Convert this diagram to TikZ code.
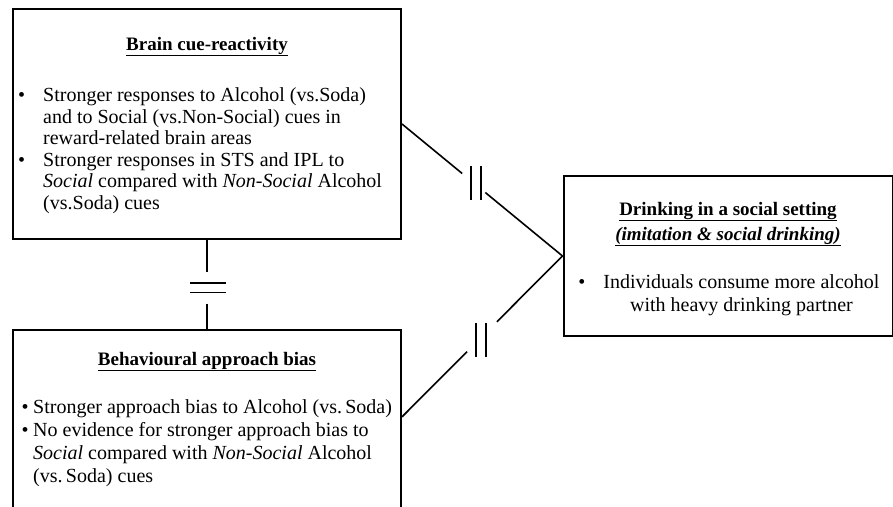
\documentclass[tikz,border=0pt]{standalone}
\usepackage{fontspec}
\setmainfont{Liberation Serif}
\usetikzlibrary{positioning,calc}
\tikzset{
  box/.style = {rectangle, draw=black, line width=2pt, inner sep=0pt},
  title/.style = {font=\fontsize{19}{21.5}\selectfont\bfseries, align=center, inner sep=0pt},
  bullets/.style = {align=left, inner sep=0pt},
  link/.style = {draw=black, line width=1.6pt}
}

\begin{document}
\begin{tikzpicture}[x=1pt,y=-1pt,font=\fontsize{20}{21.5}\selectfont]
\useasboundingbox (0,0) rectangle (893,506);
% the three boxes
\node [box, minimum width=388pt, minimum height=230pt] (brain) at (207,124) {};
\node [box, minimum width=388pt, minimum height=200pt] (bias) at (207,430) {};
\node [box, minimum width=329pt, minimum height=160pt] (drink) at (728,256) {};
% titles
\node [title, anchor=base] (brainT) at (207,50) {\underline{Brain cue-reactivity}};
\node [title, anchor=base] (biasT) at (207,365) {\underline{Behavioural approach bias}};
\node [title, anchor=base] (drinkT) at (728,215) {\underline{Drinking in a social setting}};
\node [title, anchor=base] (drinkS) at (728,240) {\underline{\textit{(imitation \& social drinking)}}};
% bullet lists
\node [bullets, anchor=base west] (brainL) at (18,101.7) {%
  \begin{tabular}[t]{@{}c@{\hspace{18pt}}l@{}}
  \textbullet & Stronger responses to Alcohol (vs.Soda)\\
   & and to Social (vs.Non-Social) cues in\\
   & reward-related brain areas\\
  \textbullet & Stronger responses in STS and IPL to\\
   & \textit{Social} compared with \textit{Non-Social} Alcohol\\
   & (vs.Soda) cues
  \end{tabular}};
\node [bullets, anchor=base west, font=\fontsize{20}{23.3}\selectfont] (biasL) at (21.5,413) {%
  \begin{tabular}[t]{@{}c@{\hspace{4.5pt}}l@{}}
  \textbullet & Stronger approach bias to Alcohol (vs.\,Soda)\\
  \textbullet & No evidence for stronger approach bias to\\
   & \textit{Social} compared with \textit{Non-Social} Alcohol\\
   & (vs.\,Soda) cues
  \end{tabular}};
\node [bullets, anchor=base west, font=\fontsize{20}{23}\selectfont] (drinkL) at (578.2,288) {%
  \begin{tabular}[t]{@{}c@{\hspace{18pt}}c@{}}
  \textbullet & Individuals consume more alcohol\\
   & with heavy drinking partner
  \end{tabular}};
% broken links
\draw [link] (brain.east) -- ($(brain.east)!0.375!(drink.west)$) coordinate (g1a);
\draw [link] ($(brain.east)!0.519!(drink.west)$) coordinate (g1b) -- (drink.west);
\coordinate (bjoin) at ($(bias.north east)!0.435!(bias.south east)$);
\draw [link] (bjoin) -- ($(bjoin)!0.405!(drink.west)$) coordinate (g2a);
\draw [link] ($(bjoin)!0.591!(drink.west)$) coordinate (g2b) -- (drink.west);
\draw [link] (brain.south) -- ($(brain.south)!0.36!(bias.north)$) coordinate (g3a);
\draw [link] ($(brain.south)!0.714!(bias.north)$) coordinate (g3b) -- (bias.north);
% gap marks
\coordinate (m1) at ($(g1a)!0.5!(g1b)$);
\coordinate (m2) at ($(g2a)!0.5!(g2b)$);
\coordinate (m3) at ($(g3a)!0.5!(g3b)$);
\draw [link] ($(m1)+(-3,-17)$) -- +(0,34) ($(m1)+(7,-17)$) -- +(0,34);
\draw [link] ($(m2)+(-6,-14)$) -- +(0,34) ($(m2)+(4,-14)$) -- +(0,34);
\draw [link] ($(m3)+(-17,-4.5)$) -- +(36,0) ($(m3)+(-17,4.8)$) -- +(36,0);
\end{tikzpicture}
\end{document}
